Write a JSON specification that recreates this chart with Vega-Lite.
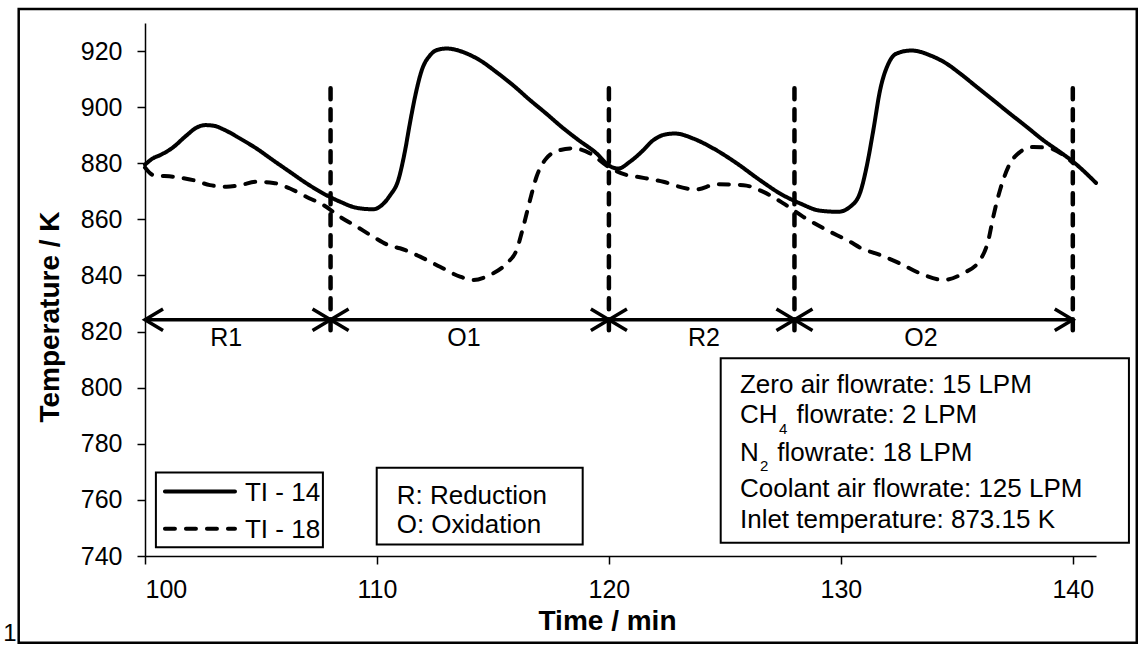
{
  "$schema": "https://vega.github.io/schema/vega-lite/v6.json",
  "width": 951,
  "height": 533,
  "autosize": "none",
  "padding": {"left": 145, "top": 23, "right": 42, "bottom": 90},
  "background": "white",
  "config": {
    "font": "Liberation Sans",
    "view": {"stroke": null},
    "axis": {
      "grid": false,
      "domainColor": "black",
      "domainWidth": 1.5,
      "tickColor": "black",
      "tickWidth": 1.5,
      "tickSize": 8,
      "labelFont": "Liberation Sans",
      "labelFontSize": 25,
      "labelColor": "black",
      "titleFont": "Liberation Sans",
      "titleFontSize": 28,
      "titleFontWeight": "bold",
      "titleColor": "black"
    },
    "text": {"font": "Liberation Sans", "color": "black"}
  },
  "datasets": {
    "series": [
      {"s": "TI - 14", "t": 100.0, "T": 879.5},
      {"s": "TI - 14", "t": 100.35, "T": 881.8},
      {"s": "TI - 14", "t": 100.65, "T": 882.9},
      {"s": "TI - 14", "t": 101.15, "T": 885.3},
      {"s": "TI - 14", "t": 101.8, "T": 890.0},
      {"s": "TI - 14", "t": 102.2, "T": 892.6},
      {"s": "TI - 14", "t": 102.6, "T": 893.6},
      {"s": "TI - 14", "t": 103.0, "T": 893.3},
      {"s": "TI - 14", "t": 103.4, "T": 892.0},
      {"s": "TI - 14", "t": 104.1, "T": 888.8},
      {"s": "TI - 14", "t": 104.8, "T": 885.3},
      {"s": "TI - 14", "t": 105.5, "T": 881.2},
      {"s": "TI - 14", "t": 106.25, "T": 876.9},
      {"s": "TI - 14", "t": 106.97, "T": 872.8},
      {"s": "TI - 14", "t": 107.69, "T": 869.2},
      {"s": "TI - 14", "t": 108.41, "T": 866.3},
      {"s": "TI - 14", "t": 109.13, "T": 864.1},
      {"s": "TI - 14", "t": 109.84, "T": 863.6},
      {"s": "TI - 14", "t": 110.2, "T": 865.0},
      {"s": "TI - 14", "t": 110.56, "T": 868.5},
      {"s": "TI - 14", "t": 110.92, "T": 874.0},
      {"s": "TI - 14", "t": 111.2, "T": 884.0},
      {"s": "TI - 14", "t": 111.42, "T": 894.2},
      {"s": "TI - 14", "t": 111.64, "T": 903.6},
      {"s": "TI - 14", "t": 111.93, "T": 913.1},
      {"s": "TI - 14", "t": 112.29, "T": 918.5},
      {"s": "TI - 14", "t": 112.6, "T": 920.4},
      {"s": "TI - 14", "t": 113.0, "T": 920.9},
      {"s": "TI - 14", "t": 113.72, "T": 919.6},
      {"s": "TI - 14", "t": 114.44, "T": 916.7},
      {"s": "TI - 14", "t": 115.15, "T": 912.5},
      {"s": "TI - 14", "t": 115.87, "T": 907.8},
      {"s": "TI - 14", "t": 116.6, "T": 902.5},
      {"s": "TI - 14", "t": 117.3, "T": 897.7},
      {"s": "TI - 14", "t": 118.0, "T": 892.7},
      {"s": "TI - 14", "t": 118.7, "T": 888.2},
      {"s": "TI - 14", "t": 119.47, "T": 883.5},
      {"s": "TI - 14", "t": 119.98, "T": 879.3},
      {"s": "TI - 14", "t": 120.4, "T": 878.1},
      {"s": "TI - 14", "t": 120.9, "T": 880.5},
      {"s": "TI - 14", "t": 121.4, "T": 884.0},
      {"s": "TI - 14", "t": 121.91, "T": 888.2},
      {"s": "TI - 14", "t": 122.4, "T": 890.2},
      {"s": "TI - 14", "t": 122.85, "T": 890.6},
      {"s": "TI - 14", "t": 123.64, "T": 888.8},
      {"s": "TI - 14", "t": 124.5, "T": 885.3},
      {"s": "TI - 14", "t": 125.51, "T": 880.0},
      {"s": "TI - 14", "t": 126.51, "T": 874.0},
      {"s": "TI - 14", "t": 127.38, "T": 869.2},
      {"s": "TI - 14", "t": 128.24, "T": 865.7},
      {"s": "TI - 14", "t": 129.1, "T": 863.1},
      {"s": "TI - 14", "t": 129.89, "T": 862.7},
      {"s": "TI - 14", "t": 130.4, "T": 864.5},
      {"s": "TI - 14", "t": 130.83, "T": 869.5},
      {"s": "TI - 14", "t": 131.11, "T": 878.7},
      {"s": "TI - 14", "t": 131.4, "T": 891.8},
      {"s": "TI - 14", "t": 131.69, "T": 906.0},
      {"s": "TI - 14", "t": 132.05, "T": 915.5},
      {"s": "TI - 14", "t": 132.4, "T": 919.1},
      {"s": "TI - 14", "t": 133.05, "T": 920.2},
      {"s": "TI - 14", "t": 133.84, "T": 918.5},
      {"s": "TI - 14", "t": 134.56, "T": 915.5},
      {"s": "TI - 14", "t": 135.14, "T": 912.0},
      {"s": "TI - 14", "t": 135.86, "T": 907.2},
      {"s": "TI - 14", "t": 136.57, "T": 902.5},
      {"s": "TI - 14", "t": 137.29, "T": 897.7},
      {"s": "TI - 14", "t": 138.01, "T": 893.0},
      {"s": "TI - 14", "t": 138.73, "T": 888.2},
      {"s": "TI - 14", "t": 139.45, "T": 884.0},
      {"s": "TI - 14", "t": 140.02, "T": 880.5},
      {"s": "TI - 14", "t": 141.0, "T": 873.0},
      {"s": "TI - 18", "t": 100.0, "T": 878.5},
      {"s": "TI - 18", "t": 100.36, "T": 875.8},
      {"s": "TI - 18", "t": 101.22, "T": 875.2},
      {"s": "TI - 18", "t": 102.08, "T": 874.0},
      {"s": "TI - 18", "t": 102.8, "T": 872.2},
      {"s": "TI - 18", "t": 103.52, "T": 871.6},
      {"s": "TI - 18", "t": 104.1, "T": 872.2},
      {"s": "TI - 18", "t": 104.81, "T": 873.4},
      {"s": "TI - 18", "t": 105.53, "T": 873.0},
      {"s": "TI - 18", "t": 106.25, "T": 871.0},
      {"s": "TI - 18", "t": 106.97, "T": 868.0},
      {"s": "TI - 18", "t": 107.69, "T": 865.1},
      {"s": "TI - 18", "t": 108.41, "T": 860.9},
      {"s": "TI - 18", "t": 109.13, "T": 857.4},
      {"s": "TI - 18", "t": 109.84, "T": 853.8},
      {"s": "TI - 18", "t": 110.56, "T": 850.6},
      {"s": "TI - 18", "t": 110.99, "T": 849.7},
      {"s": "TI - 18", "t": 111.86, "T": 846.7},
      {"s": "TI - 18", "t": 112.72, "T": 843.1},
      {"s": "TI - 18", "t": 113.58, "T": 839.6},
      {"s": "TI - 18", "t": 114.15, "T": 838.4},
      {"s": "TI - 18", "t": 114.87, "T": 840.2},
      {"s": "TI - 18", "t": 115.59, "T": 844.3},
      {"s": "TI - 18", "t": 116.02, "T": 849.1},
      {"s": "TI - 18", "t": 116.31, "T": 857.4},
      {"s": "TI - 18", "t": 116.6, "T": 866.9},
      {"s": "TI - 18", "t": 116.88, "T": 875.2},
      {"s": "TI - 18", "t": 117.3, "T": 881.7},
      {"s": "TI - 18", "t": 117.9, "T": 884.7},
      {"s": "TI - 18", "t": 118.47, "T": 885.3},
      {"s": "TI - 18", "t": 119.19, "T": 883.5},
      {"s": "TI - 18", "t": 119.98, "T": 878.7},
      {"s": "TI - 18", "t": 120.77, "T": 875.8},
      {"s": "TI - 18", "t": 121.34, "T": 875.0},
      {"s": "TI - 18", "t": 122.35, "T": 873.4},
      {"s": "TI - 18", "t": 123.35, "T": 871.0},
      {"s": "TI - 18", "t": 123.78, "T": 870.7},
      {"s": "TI - 18", "t": 124.64, "T": 872.5},
      {"s": "TI - 18", "t": 125.8, "T": 872.2},
      {"s": "TI - 18", "t": 126.66, "T": 869.8},
      {"s": "TI - 18", "t": 127.52, "T": 865.7},
      {"s": "TI - 18", "t": 128.38, "T": 860.9},
      {"s": "TI - 18", "t": 129.39, "T": 856.2},
      {"s": "TI - 18", "t": 130.4, "T": 852.0},
      {"s": "TI - 18", "t": 130.83, "T": 849.9},
      {"s": "TI - 18", "t": 131.69, "T": 847.3},
      {"s": "TI - 18", "t": 132.55, "T": 844.3},
      {"s": "TI - 18", "t": 133.41, "T": 840.8},
      {"s": "TI - 18", "t": 134.42, "T": 838.4},
      {"s": "TI - 18", "t": 135.28, "T": 840.8},
      {"s": "TI - 18", "t": 136.0, "T": 845.5},
      {"s": "TI - 18", "t": 136.36, "T": 852.6},
      {"s": "TI - 18", "t": 136.57, "T": 860.9},
      {"s": "TI - 18", "t": 136.86, "T": 870.4},
      {"s": "TI - 18", "t": 137.22, "T": 878.7},
      {"s": "TI - 18", "t": 137.72, "T": 884.0},
      {"s": "TI - 18", "t": 138.3, "T": 885.8},
      {"s": "TI - 18", "t": 139.02, "T": 885.3},
      {"s": "TI - 18", "t": 139.59, "T": 882.9},
      {"s": "TI - 18", "t": 140.02, "T": 880.0}
    ],
    "switches": [
      {"t": 108, "T": 820.5, "T2": 909.5},
      {"t": 120, "T": 820.5, "T2": 909.5},
      {"t": 128, "T": 820.5, "T2": 909.5},
      {"t": 140, "T": 820.5, "T2": 909.5}
    ],
    "phases": [
      {"t": 100, "t2": 108, "T": 824.2},
      {"t": 108, "t2": 120, "T": 824.2},
      {"t": 120, "t2": 128, "T": 824.2},
      {"t": 128, "t2": 140, "T": 824.2}
    ],
    "phaseLabels": [
      {"t": 103.5, "T": 814.9, "label": "R1"},
      {"t": 113.75, "T": 814.9, "label": "O1"},
      {"t": 124.1, "T": 814.9, "label": "R2"},
      {"t": 133.45, "T": 814.9, "label": "O2"}
    ],
    "heads": [
      {"t": 100, "T": 824.2, "dir": "L"}, {"t": 108, "T": 824.2, "dir": "R"},
      {"t": 108, "T": 824.2, "dir": "L"}, {"t": 120, "T": 824.2, "dir": "R"},
      {"t": 120, "T": 824.2, "dir": "L"}, {"t": 128, "T": 824.2, "dir": "R"},
      {"t": 128, "T": 824.2, "dir": "L"}, {"t": 140, "T": 824.2, "dir": "R"}
    ],
    "frame": [{"t": 94.555, "t2": 142.758, "T": 709.1, "T2": 934.95}],
    "boxes": [
      {"name": "legend", "t": 100.47, "t2": 107.67, "T": 743.1, "T2": 769.8},
      {"name": "phases", "t": 109.99, "t2": 118.87, "T": 744.1, "T2": 771.5},
      {"name": "conditions", "t": 124.82, "t2": 142.42, "T": 744.7, "T2": 810.5}
    ],
    "keys": [
      {"s": "TI - 14", "t": 100.86, "t2": 103.88, "T": 763.0},
      {"s": "TI - 18", "t": 100.86, "t2": 103.88, "T": 749.7}
    ],
    "notes": [
      {"t": 104.31, "T": 759.7, "label": "TI - 14"},
      {"t": 104.31, "T": 746.5, "label": "TI - 18"},
      {"t": 110.85, "T": 758.7, "label": "R: Reduction"},
      {"t": 110.85, "T": 748.2, "label": "O: Oxidation"},
      {"t": 125.65, "T": 798.1, "label": "Zero air flowrate: 15 LPM"},
      {"t": 125.65, "T": 787.4, "label": "CH"},
      {"t": 128.09, "T": 787.4, "label": "flowrate: 2 LPM"},
      {"t": 125.65, "T": 774.0, "label": "N"},
      {"t": 127.26, "T": 774.0, "label": "flowrate: 18 LPM"},
      {"t": 125.65, "T": 760.9, "label": "Coolant air flowrate: 125 LPM"},
      {"t": 125.65, "T": 750.0, "label": "Inlet temperature: 873.15 K"}
    ],
    "subscripts": [
      {"t": 127.33, "T": 783.6, "label": "4"},
      {"t": 126.51, "T": 770.2, "label": "2"}
    ],
    "corner": [{"t": 94.18, "T": 709.8, "label": "1"}]
  },
  "encoding": {
    "x": {
      "field": "t",
      "type": "quantitative",
      "scale": {"domain": [100, 141], "nice": false, "zero": false},
      "axis": {
        "values": [100, 110, 120, 130, 140],
        "labelPadding": 13,
        "title": "Time / min",
        "titleX": 462,
        "titleY": 73.5,
        "titleAlign": "center",
        "titleBaseline": "alphabetic"
      }
    },
    "y": {
      "field": "T",
      "type": "quantitative",
      "scale": {"domain": [740, 930], "nice": false, "zero": false},
      "axis": {
        "values": [740, 760, 780, 800, 820, 840, 860, 880, 900, 920],
        "labelPadding": 15,
        "title": "Temperature / K",
        "titleX": -87,
        "titleY": 293.5,
        "titleAlign": "center",
        "titleBaseline": "alphabetic"
      }
    }
  },
  "layer": [
    {
      "data": {"name": "frame"},
      "mark": {"type": "rect", "fillOpacity": 0, "stroke": "black", "strokeWidth": 2.5},
      "encoding": {"x2": {"field": "t2"}, "y2": {"field": "T2"}}
    },
    {
      "data": {"name": "boxes"},
      "mark": {"type": "rect", "fillOpacity": 0, "stroke": "black", "strokeWidth": 2},
      "encoding": {"x2": {"field": "t2"}, "y2": {"field": "T2"}}
    },
    {
      "data": {"name": "switches"},
      "mark": {"type": "rule", "color": "black", "strokeWidth": 4.5, "strokeDash": [11, 10], "strokeCap": "round"},
      "encoding": {"y2": {"field": "T2"}}
    },
    {
      "data": {"name": "phases"},
      "mark": {"type": "rule", "color": "black", "strokeWidth": 3.5},
      "encoding": {"x2": {"field": "t2"}}
    },
    {
      "data": {"name": "heads"},
      "mark": {"type": "point", "filled": false, "color": "black", "opacity": 1, "strokeWidth": 3.5, "size": 1300},
      "encoding": {
        "shape": {
          "field": "dir",
          "type": "nominal",
          "scale": {"domain": ["L", "R"], "range": ["M1,-0.6L0,0L1,0.6", "M-1,-0.6L0,0L-1,0.6"]},
          "legend": null
        }
      }
    },
    {
      "data": {"name": "phaseLabels"},
      "mark": {"type": "text", "fontSize": 25, "align": "center", "baseline": "alphabetic"},
      "encoding": {"text": {"field": "label"}}
    },
    {
      "data": {"name": "series"},
      "mark": {"type": "line", "color": "black", "strokeWidth": 4, "interpolate": "monotone", "strokeCap": "round"},
      "encoding": {
        "detail": {"field": "s"},
        "strokeDash": {
          "field": "s",
          "type": "nominal",
          "scale": {"domain": ["TI - 14", "TI - 18"], "range": [[1, 0], [10, 11]]},
          "legend": null
        }
      }
    },
    {
      "data": {"name": "keys"},
      "mark": {"type": "rule", "color": "black", "strokeWidth": 4, "strokeCap": "round"},
      "encoding": {
        "x2": {"field": "t2"},
        "strokeDash": {
          "field": "s",
          "type": "nominal",
          "scale": {"domain": ["TI - 14", "TI - 18"], "range": [[1, 0], [10, 10]]},
          "legend": null
        }
      }
    },
    {
      "data": {"name": "notes"},
      "mark": {"type": "text", "fontSize": 26, "align": "left", "baseline": "alphabetic"},
      "encoding": {"text": {"field": "label"}}
    },
    {
      "data": {"name": "subscripts"},
      "mark": {"type": "text", "fontSize": 15, "align": "left", "baseline": "alphabetic"},
      "encoding": {"text": {"field": "label"}}
    },
    {
      "data": {"name": "corner"},
      "mark": {"type": "text", "fontSize": 24, "align": "center", "baseline": "alphabetic"},
      "encoding": {"text": {"field": "label"}}
    }
  ]
}
